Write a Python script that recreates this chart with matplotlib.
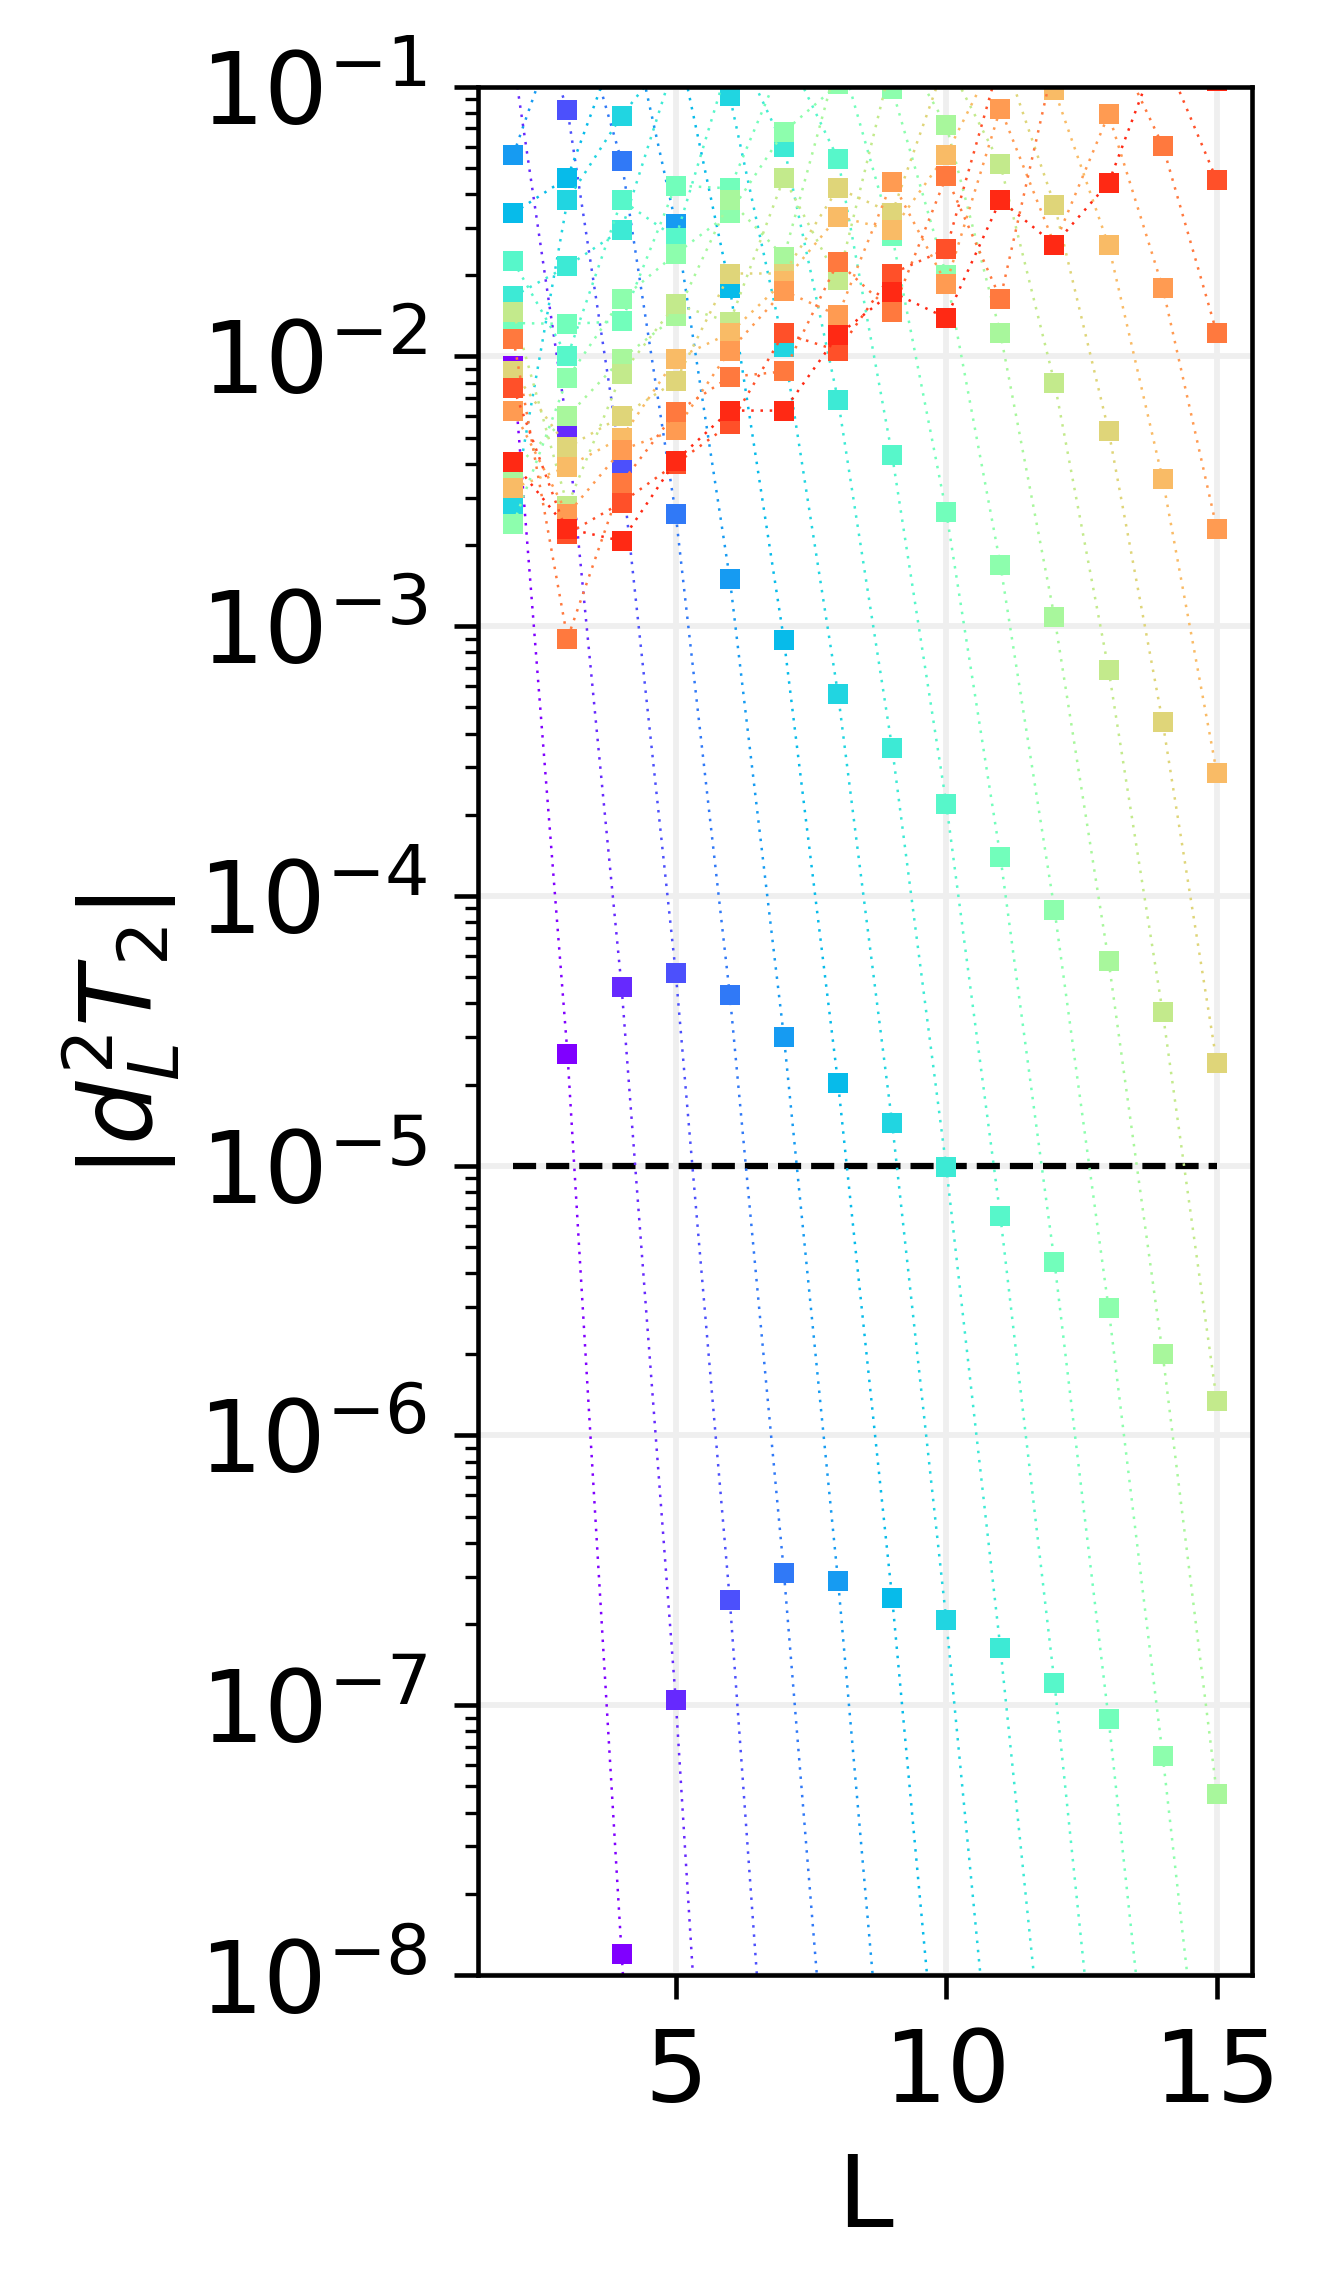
import numpy as np
import matplotlib
matplotlib.use("Agg")
import matplotlib.pyplot as plt

# L values shared by every series
L = np.arange(2, 16)

# |d_L^2 T_2| per series (one colour each); None = not drawn
s00 = [9.2e-3, 2.6e-5, 1.2e-8, 1e-11] + [None] * 10
s01 = [1.26e-1, 5.4e-3, 4.6e-5, 1.05e-7, 6.5e-11] + [None] * 9
s02 = [3.2e-1, 8.2e-2, 3.9e-3, 5.2e-5, 2.45e-7, 4.1e-10] + [None] * 8
s03 = [3.0e-1, 2.6e-1, 5.3e-2, 2.6e-3, 4.3e-5, 3.1e-7, 1.1e-9] + [None] * 7
s04 = [5.6e-2, 2.1e-1, 2.5e-1, 3.1e-2, 1.5e-3, 3.0e-5, 2.9e-7, 1.5e-9] + [None] * 6
s05 = [3.4e-2, 4.6e-2, 1.6e-1, 1.6e-1, 1.8e-2, 8.9e-4, 2.03e-5, 2.5e-7, 1.7e-9] + [None] * 5
s06 = [2.8e-3, 3.8e-2, 7.8e-2, 1.4e-1, 9.2e-2, 1.08e-2, 5.6e-4, 1.44e-5, 2.07e-7, 1.7e-9] + [None] * 4
s07 = [1.67e-2, 2.16e-2, 2.95e-2, 1.26e-1, 1.6e-1, 6.0e-2, 6.9e-3, 3.54e-4, 9.9e-6, 1.63e-7, 1.8e-9] + [None] * 3
s08 = [2.25e-2, 1.0e-2, 3.8e-2, 2.75e-2, 1.26e-1, 1.4e-1, 5.4e-2, 4.3e-3, 2.2e-4, 6.5e-6, 1.21e-7, 1.4e-9] + [None] * 2
s09 = [1.33e-2, 1.32e-2, 1.35e-2, 4.3e-2, 4.2e-2, 1.26e-1, 1.4e-1, 2.8e-2, 2.65e-3, 1.4e-4, 4.4e-6, 8.9e-8, 1.2e-9, None]
s10 = [2.4e-3, 8.3e-3, 1.63e-2, 2.4e-2, 3.4e-2, 6.8e-2, 1.02e-1, 9.8e-2, 2.0e-2, 1.69e-3, 8.9e-5, 2.96e-6, 6.5e-8, 1.06e-9]
s11 = [3.8e-3, 6.0e-3, 9.8e-3, 1.41e-2, 3.8e-2, 2.34e-2, 1.26e-1, 1.6e-1, 7.2e-2, 1.22e-2, 1.08e-3, 5.75e-5, 2.0e-6, 4.7e-8]
s12 = [1.46e-2, 2.8e-3, 8.6e-3, 1.56e-2, 1.34e-2, 4.6e-2, 1.92e-2, 1.26e-1, 1.26e-1, 5.15e-2, 8.0e-3, 6.9e-4, 3.7e-5, 1.34e-6]
s13 = [8.8e-3, 4.6e-3, 6.0e-3, 8.1e-3, 2.03e-2, 2.03e-2, 4.2e-2, 3.4e-2, 1.26e-1, 1.4e-1, 3.65e-2, 5.3e-3, 4.4e-4, 2.4e-5]
s14 = [3.25e-3, 3.9e-3, 5.0e-3, 9.8e-3, 1.22e-2, 1.9e-2, 3.3e-2, 2.94e-2, 5.6e-2, 1.4e-1, 9.7e-2, 2.58e-2, 3.5e-3, 2.86e-4]
s15 = [6.3e-3, 2.6e-3, 4.5e-3, 5.35e-3, 1.05e-2, 1.75e-2, 1.42e-2, 4.45e-2, 1.86e-2, 8.3e-2, 2.6e-2, 7.9e-2, 1.8e-2, 2.3e-3]
s16 = [1.16e-2, 9.0e-4, 3.4e-3, 6.2e-3, 8.4e-3, 8.8e-3, 2.24e-2, 1.46e-2, 4.65e-2, 1.64e-2, 1.26e-1, 1.6e-1, 6.05e-2, 1.22e-2]
s17 = [7.65e-3, 2.2e-3, 2.87e-3, 4.0e-3, 5.6e-3, 1.22e-2, 1.05e-2, 2.03e-2, 2.5e-2, 1.26e-1, 1.4e-1, 1.4e-1, 1.35e-1, 4.5e-2]
s18 = [4.05e-3, 2.3e-3, 2.07e-3, 4.1e-3, 6.3e-3, 6.3e-3, 1.2e-2, 1.73e-2, 1.39e-2, 3.8e-2, 2.6e-2, 4.4e-2, 1.5e-1, 1.05e-1]

series = [s00, s01, s02, s03, s04, s05, s06, s07, s08, s09,
          s10, s11, s12, s13, s14, s15, s16, s17, s18]

threshold = 1e-5

colors = plt.cm.rainbow(np.linspace(0, 1, 20))

fig = plt.figure(figsize=(1330 / 300, 2295 / 300), dpi=300)
ax = fig.add_axes([478.2 / 1330, 1 - 1975 / 2295, 773.8 / 1330, 1888.3 / 2295])

ax.set_axisbelow(True)
ax.grid(True, which="major", color="#efefef", lw=1.4)

# threshold line
ax.hlines(threshold, L[0], L[-1], colors="k", linestyles="--", lw=1.5, zorder=1.5)

for i, vals in enumerate(series):
    y = np.array([np.nan if v is None else v for v in vals], dtype=float)
    ax.plot(L, y, color=colors[i], ls=(0, (1, 2.7)), lw=0.6,
            marker="s", ms=5, mew=0, zorder=2)

ax.set_yscale("log")
ax.set_ylim(1e-8, 1e-1)
ax.set_xlim(1.35, 15.65)
ax.set_xticks([5, 10, 15])

for sp in ax.spines.values():
    sp.set_linewidth(1.1)
ax.tick_params(which="major", length=5.7, width=1.1, labelsize=24, pad=6.5)
ax.tick_params(which="minor", length=3.2, width=0.8)

ax.set_xlabel("L", fontsize=24, va="top")
ax.xaxis.set_label_coords(0.5, -0.093)
ax.set_ylabel(r"$|d_L^2 T_2|$", fontsize=24, va="center", ha="center")
ax.yaxis.set_label_coords(-0.461, 0.497)

fig.savefig("out.png", dpi=300)
